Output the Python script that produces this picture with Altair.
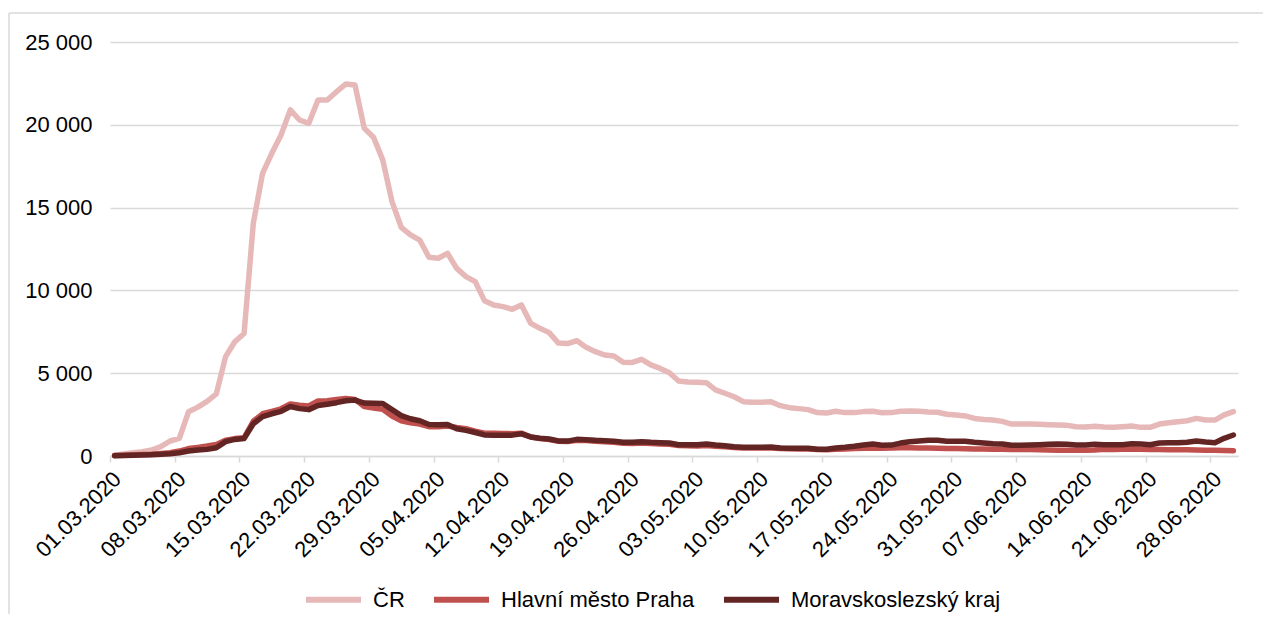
import altair as alt
import pandas as pd

# ---- data (daily values, 01.03.2020 - 30.06.2020) ----
series_names = ["ČR", "Hlavní město Praha", "Moravskoslezský kraj"]
series_colors = ["#e6b9b8", "#c0504d", "#632523"]

cr = [50, 120, 200, 260, 362, 563, 906, 1067, 2677, 2950,
      3300, 3750, 6000, 6900, 7400, 14050, 17070, 18280, 19390, 20900,
      20290, 20090, 21500, 21500, 22000, 22460, 22400, 19790, 19250, 17880,
      15360, 13810, 13350, 13040, 12000, 11940, 12240, 11330, 10830, 10530,
      9380, 9120, 9020, 8860, 9120, 8010, 7710, 7450, 6820, 6790,
      6960, 6560, 6300, 6100, 6040, 5660, 5650, 5840, 5500, 5290,
      5030, 4530, 4470, 4450, 4430, 3990, 3790, 3580, 3280, 3240,
      3240, 3280, 3040, 2920, 2860, 2800, 2620, 2600, 2700, 2620,
      2620, 2680, 2700, 2610, 2620, 2700, 2710, 2700, 2660, 2640,
      2520, 2480, 2420, 2270, 2210, 2170, 2090, 1930, 1930, 1930,
      1910, 1890, 1870, 1850, 1770, 1750, 1790, 1750, 1730, 1770,
      1810, 1730, 1730, 1930, 2010, 2070, 2130, 2270, 2170, 2170,
      2480, 2680]

praha = [30, 50, 70, 90, 110, 150, 200, 300, 450, 520,
         600, 700, 950, 1050, 1100, 2100, 2550, 2700, 2850, 3140,
         3060, 3020, 3320, 3340, 3420, 3480, 3420, 2980, 2900, 2820,
         2415, 2130, 2010, 1930, 1770, 1770, 1810, 1720, 1650, 1500,
         1380, 1370, 1360, 1350, 1380, 1150, 1050, 990, 890, 870,
         950, 930, 890, 860, 830, 770, 760, 780, 750, 730,
         710, 630, 620, 610, 630, 590, 560, 520, 490, 480,
         480, 490, 460, 440, 430, 420, 390, 380, 410, 430,
         450, 470, 490, 470, 480, 500, 500, 490, 480, 470,
         460, 450, 440, 425, 420, 410, 405, 400, 400, 395,
         370, 360, 350, 345, 340, 340, 360, 400, 400, 410,
         420, 410, 400, 390, 380, 380, 370, 360, 350, 340,
         330, 320]

msk = [20, 30, 40, 60, 80, 100, 140, 200, 300, 360,
       400, 500, 865, 1000, 1060, 1950, 2380, 2550, 2700, 2990,
       2860, 2800, 3050, 3130, 3220, 3340, 3380, 3200, 3180, 3170,
       2800, 2440, 2250, 2130, 1900, 1890, 1900, 1650, 1550, 1420,
       1270, 1260, 1260, 1260, 1340, 1150, 1070, 1030, 910, 900,
       1006, 980, 946, 926, 886, 825, 825, 865, 825, 805,
       785, 684, 684, 684, 724, 664, 624, 563, 523, 523,
       523, 543, 483, 463, 463, 463, 402, 402, 483, 523,
       584, 664, 724, 650, 660, 780, 866, 906, 946, 946,
       886, 886, 886, 825, 785, 745, 725, 644, 644, 664,
       684, 704, 725, 704, 664, 664, 704, 684, 684, 684,
       745, 725, 684, 785, 805, 805, 825, 906, 845, 805,
       1067, 1268]

tick_labels = ["01.03.2020", "08.03.2020", "15.03.2020", "22.03.2020",
               "29.03.2020", "05.04.2020", "12.04.2020", "19.04.2020",
               "26.04.2020", "03.05.2020", "10.05.2020", "17.05.2020",
               "24.05.2020", "31.05.2020", "07.06.2020", "14.06.2020",
               "21.06.2020", "28.06.2020"]

y_ticks = [0, 5000, 10000, 15000, 20000, 25000]

# ---- build table ----
days = pd.date_range("2020-03-01", periods=len(cr), freq="D") + pd.Timedelta(hours=12)
day_str = [d.strftime("%Y-%m-%dT%H:%M:%SZ") for d in days]
rows = []
for name, vals in zip(series_names, [cr, praha, msk]):
    for d, v in zip(day_str, vals):
        rows.append({"date": d, "value": v, "series": name})
df = pd.DataFrame(rows)

tick_values = []
for t in tick_labels:
    dd, mm, yy = t.split(".")
    tick_values.append(alt.DateTime(year=int(yy), month=int(mm), date=int(dd), utc=True))

FONT = "Liberation Sans"
GRID = "#d9d9d9"
FS = 22

x_enc = alt.X(
    "date:T",
    scale=alt.Scale(type="utc",
                    domain=[alt.DateTime(year=2020, month=3, date=1, utc=True),
                            alt.DateTime(year=2020, month=7, date=1, utc=True)]),
    axis=alt.Axis(values=tick_values, format="%d.%m.%Y", labelAngle=315,
                  labelAlign="right", labelBaseline="top", labelPadding=6,
                  tickSize=6, tickColor=GRID, tickWidth=1.5,
                  domainColor=GRID, domainWidth=1.5, grid=False, title=None,
                  labelOverlap=False),
)
y_enc = alt.Y(
    "value:Q",
    scale=alt.Scale(domain=[0, 25000], nice=False),
    axis=alt.Axis(values=y_ticks, labelExpr="replace(format(datum.value, ',d'), ',', ' ')",
                  ticks=False, domain=False, gridColor=GRID, gridWidth=1.5,
                  labelPadding=18, title=None),
)
color_enc = alt.Color(
    "series:N",
    scale=alt.Scale(domain=series_names, range=series_colors),
    legend=alt.Legend(orient="none", legendX=193, legendY=527, direction="horizontal",
                      title=None, symbolType="stroke", symbolStrokeWidth=6,
                      symbolSize=3025, labelFontSize=22, labelFont=FONT,
                      labelColor="#000", labelOffset=9, columnPadding=17,
                      labelLimit=0),
)

base = alt.Chart(df).encode(x=x_enc, y=y_enc, color=color_enc)
lines = [
    base.transform_filter(alt.datum.series == s).mark_line(
        strokeWidth=5.5, strokeJoin="round", strokeCap="round")
    for s in series_names
]

frame_df = pd.DataFrame({"k": [0]})
frame_v = alt.Chart(frame_df).mark_rule(color=GRID, strokeWidth=1.5).encode(
    x=alt.value(-101), y=alt.value(-29), y2=alt.value(600))
frame_h = alt.Chart(frame_df).mark_rule(color=GRID, strokeWidth=1.5).encode(
    x=alt.value(-101), x2=alt.value(1200), y=alt.value(-29))

chart = alt.layer(frame_v, frame_h, *lines).properties(
    width=1128, height=414,
    padding={"left": 102, "top": 34, "right": 25, "bottom": 158},
    autosize=alt.AutoSizeParams(type="none"),
).configure_view(stroke=None).configure_axis(
    labelFont=FONT, labelFontSize=FS, labelColor="#000"
).configure_legend(labelFont=FONT, symbolStrokeWidth=6)

chart.save("out.html", embed_options={"renderer": "svg", "actions": False})
